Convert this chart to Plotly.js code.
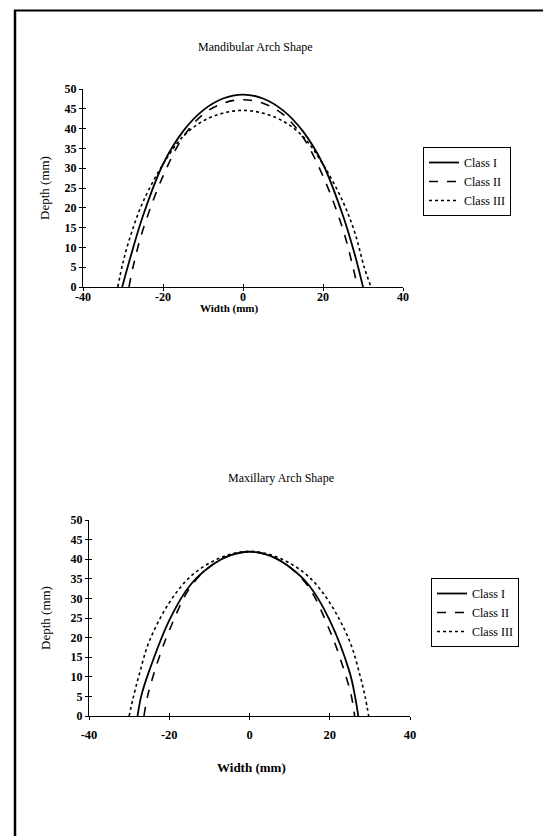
<!DOCTYPE html>
<html>
<head>
<meta charset="utf-8">
<script src="https://cdn.plot.ly/plotly-3.0.1.min.js"></script>
<style>html,body{margin:0;padding:0;background:#fff;}#chart{width:543px;height:836px;}</style>
</head>
<body>
<div id="chart"></div>
<script>
// ---- Data ----
const seriesNames = ["Class I", "Class II", "Class III"];
const xTicks = [-40, -20, 0, 20, 40];
const yTicks = [0, 5, 10, 15, 20, 25, 30, 35, 40, 45, 50];

// Mandibular arch (width in mm, depth in mm)
const mandWidthI   = [-30.2,-28,-25,-20,-15,-10,-5,0,5,10,15,20,25,28,30];
const mandDepthI   = [0,8,18,31,39.3,44.6,47.6,48.6,47.6,44.6,39.3,31,18,8,0];
const mandWidthII  = [-28.5,-27.5,-25,-20,-15,-10,-5,0,5,10,15,20,25,27.5,28.6];
const mandDepthII  = [0,5,14.5,28,37.8,43.6,46.4,47.3,46.4,43.6,37.8,28,14.5,5,0];
const mandWidthIII = [-31.3,-30,-28,-25,-20,-15,-10,-5,0,5,10,15,20,25,28,30.3,32];
const mandDepthIII = [0,6.2,13.3,21.5,31,38,41.9,43.9,44.6,43.9,41.9,38,31,21.5,13.6,5,0];

// Maxillary arch
const maxWidthI   = [-27.9,-27,-25,-20,-15,-10,-5,0,5,10,15,20,25,26.3,27.1];
const maxDepthI   = [0,5,11.5,24.4,33.1,38,40.9,41.9,40.9,38,33.1,24.4,11,5,0];
const maxWidthII  = [-26.3,-25.3,-22.5,-20,-15,-10,-5,0,5,10,15,20,22.5,25.3,26.2];
const maxDepthII  = [0,5.5,15,21.8,32.5,38,40.9,41.9,40.9,38,32.5,21.8,15,5.5,0];
const maxWidthIII = [-30,-29,-27.5,-25,-20,-15,-10,-5,0,5,10,15,20,25,27.5,28.8,29.7];
const maxDepthIII = [0,4.6,10.5,19,28.9,35.3,39,41.2,42,41.2,39,35.3,28.9,19,10.5,5,0];

// ---- Styles ----
const FONT = "Liberation Serif, Times New Roman, serif";
const dashes = ["solid", "dash", "dot"];
const widths = [1.8, 1.6, 1.6];

function mk(x, y, i, xa, ya, leg) {
  return {
    x: x, y: y, type: "scatter", mode: "lines",
    name: seriesNames[i],
    xaxis: xa, yaxis: ya, legend: leg,
    line: {color: "#000", width: widths[i], dash: dashes[i], shape: "spline", smoothing: 1},
    hoverinfo: "x+y"
  };
}

const traces = [
  mk(mandWidthI, mandDepthI, 0, "x", "y", "legend"),
  mk(mandWidthII, mandDepthII, 1, "x", "y", "legend"),
  mk(mandWidthIII, mandDepthIII, 2, "x", "y", "legend"),
  mk(maxWidthI, maxDepthI, 0, "x2", "y2", "legend2"),
  mk(maxWidthII, maxDepthII, 1, "x2", "y2", "legend2"),
  mk(maxWidthIII, maxDepthIII, 2, "x2", "y2", "legend2")
];

const W = 543, H = 836;
const px = v => v / W;
const py = v => 1 - v / H;

function xAxis(dom, anchor, size, labelShift) {
  return {
    domain: dom, anchor: anchor, range: [-40, 40],
    tickmode: "array", tickvals: xTicks, ticktext: xTicks.map(String),
    showline: true, linecolor: "#000", linewidth: 1.2,
    ticks: "outside", ticklen: 3, tickcolor: "#000", tickwidth: 1,
    ticklabelstandoff: labelShift,
    showgrid: false, zeroline: false,
    tickfont: {family: FONT, size: size, color: "#000", weight: "bold"},
    fixedrange: true
  };
}
function yAxis(dom, anchor, size, standoff) {
  return {
    domain: dom, anchor: anchor, range: [0, 50],
    tickmode: "array", tickvals: yTicks, ticktext: yTicks.map(String),
    showline: true, linecolor: "#000", linewidth: 1.2,
    ticks: "outside", ticklen: 3, tickcolor: "#000", tickwidth: 1,
    showgrid: false, zeroline: false,
    tickfont: {family: FONT, size: size, color: "#000", weight: "bold"},
    title: {text: "Depth (mm)", font: {family: FONT, size: 13, color: "#000"}, standoff: standoff},
    fixedrange: true
  };
}
function innerTicks(base, overlay, isX, anchor) {
  return {
    overlaying: overlay, anchor: anchor,
    range: base.range, tickmode: "array", tickvals: isX ? xTicks : yTicks,
    ticks: "inside", ticklen: 3, tickcolor: "#000", tickwidth: 1,
    showticklabels: false, showline: false, showgrid: false, zeroline: false, fixedrange: true
  };
}

const xa1 = xAxis([px(83), px(403)], "y", 12, -5);
const ya1 = yAxis([py(287), py(89)], "x", 12, 11);
const xa2 = xAxis([px(89), px(410)], "y2", 12.5, 4);
const ya2 = yAxis([py(716), py(520)], "x2", 12, 16);

const legendBase = {
  bgcolor: "#fff", bordercolor: "#000", borderwidth: 1,
  font: {family: FONT, size: 12, color: "#000"},
  xanchor: "left", yanchor: "top", itemwidth: 30, tracegroupgap: 0,
  itemclick: false, itemdoubleclick: false
};

const layout = {
  width: W, height: H,
  margin: {l: 0, r: 0, t: 0, b: 0},
  paper_bgcolor: "#fff", plot_bgcolor: "rgba(0,0,0,0)",
  showlegend: true,
  xaxis: xa1, yaxis: ya1, xaxis2: xa2, yaxis2: ya2,
  xaxis3: innerTicks(xa1, "x", true, "y"),
  yaxis3: innerTicks(ya1, "y", false, "x"),
  xaxis4: innerTicks(xa2, "x2", true, "y2"),
  yaxis4: innerTicks(ya2, "y2", false, "x2"),
  legend: Object.assign({}, legendBase, {x: px(423), y: py(147)}),
  legend2: Object.assign({}, legendBase, {x: px(431), y: py(578)}),
  annotations: [
    {text: "Mandibular Arch Shape", xref: "paper", yref: "paper", x: px(255), y: py(47),
     showarrow: false, xanchor: "center", yanchor: "middle", font: {family: FONT, size: 12, color: "#000"}},
    {text: "Maxillary Arch Shape", xref: "paper", yref: "paper", x: px(281), y: py(478),
     showarrow: false, xanchor: "center", yanchor: "middle", font: {family: FONT, size: 12, color: "#000"}},
    {text: "Width (mm)", xref: "paper", yref: "paper", x: px(229), y: py(308),
     showarrow: false, xanchor: "center", yanchor: "middle", font: {family: FONT, size: 11, color: "#000", weight: "bold"}},
    {text: "Width (mm)", xref: "paper", yref: "paper", x: px(251), y: py(767),
     showarrow: false, xanchor: "center", yanchor: "middle", font: {family: FONT, size: 13, color: "#000", weight: "bold"}}
  ],
  shapes: [
    {type: "line", xref: "paper", yref: "paper", x0: px(15), x1: px(15), y0: 0, y1: py(10), line: {color: "#000", width: 2.5}},
    {type: "line", xref: "paper", yref: "paper", x0: px(14), x1: 1, y0: py(10.5), y1: py(10.5), line: {color: "#000", width: 2}}
  ]
};

// invisible anchors so the overlay tick axes are drawn
traces.push({x: [0], y: [0], xaxis: "x3", yaxis: "y3", mode: "markers", marker: {opacity: 0}, showlegend: false, hoverinfo: "skip"});
traces.push({x: [0], y: [0], xaxis: "x4", yaxis: "y4", mode: "markers", marker: {opacity: 0}, showlegend: false, hoverinfo: "skip"});

Plotly.newPlot("chart", traces, layout, {displayModeBar: false, staticPlot: true});
</script>
</body>
</html>
